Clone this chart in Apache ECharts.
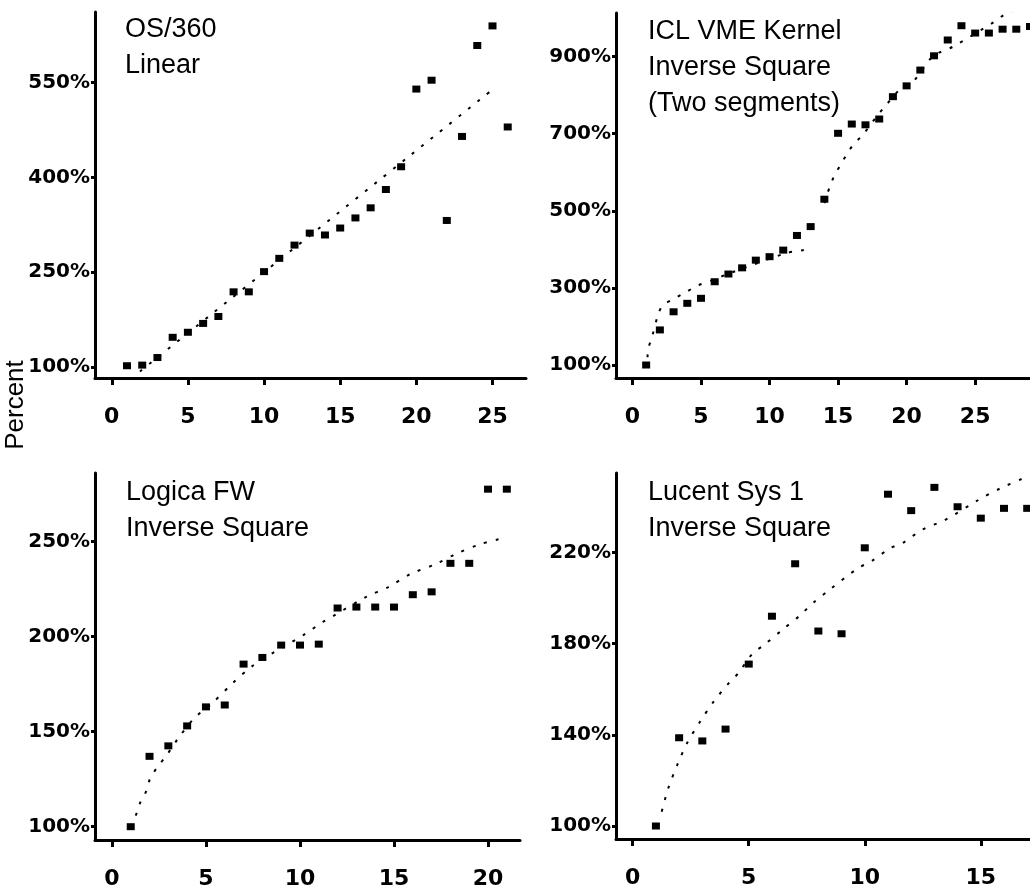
<!DOCTYPE html>
<html><head><meta charset="utf-8">
<script src="https://cdn.jsdelivr.net/npm/echarts@6/dist/echarts.min.js"></script>
<style>html,body{margin:0;padding:0;background:#fff}#c{width:1030px;height:890px}</style>
</head><body><div id="c"></div>
<script>
// ---- Panel 1: OS/360 (Linear)
const os360X = [1,2,3,4,5,6,7,8,9,10,11,12,13,14,15,16,17,18,19,20,21,22,23,24,25,26];
const os360V = [102,103,115,147,155,169,180,219,219,251,272,293,312,309,320,336,352,381,417,540,554,332,465,609,640,480];
const os360FitX = [1.85, 25.2];
const os360FitV = [93, 543];
// ---- Panel 2: ICL VME Kernel (Inverse Square, two segments)
const iclX = [1,2,3,4,5,6,7,8,9,10,11,12,13,14,15,16,17,18,19,20,21,22,23,24,25,26,27,28,29];
const iclV = [100,191,238,260,273,316,336,352,372,381,398,436,459,530,701,725,723,738,796,824,865,902,943,980,961,961,971,971,978];
const iclFitAX = [1.1,1.15,1.4,1.9,2.25,3.1,3.9,4.7,5.8,7.1,11.2,12.5];
const iclFitAV = [120,143,169,234,256,273,289,305,320,338,390,398];
const iclFitBX = [14.0,14.4,14.8,15.2,15.6,16.1,16.8,17.8,18.4,19.6,20.6,21.9,23.4,26.3,27.1,27.9];
const iclFitBV = [520,563,597,619,645,671,697,744,770,818,840,900,926,988,1008,1021];
// ---- Panel 3: Logica FW (Inverse Square)
const logicaX = [1,2,3,4,5,6,7,8,9,10,11,12,13,14,15,16,17,18,19,20,21];
const logicaV = [100,137,142.5,153,163,164,185.5,189,195.5,195.5,196,215,215.5,215.5,215.5,222,223.5,238.5,238.5,277.5,277.5];
const logicaFitX = [1.0,1.31,1.52,1.84,2.02,2.46,2.87,3.53,4.38,5.39,6.45,7.43,8.5,10.2,11.2,11.8,13.55,14.7,15.9,17.2,18.3,19.6,20.7];
const logicaFitV = [100,107,113,119,125,132,137,146.6,157,165.5,175.8,184.2,191,200.9,207.6,211,221,226,233,238,243.5,248.6,251.5];
// ---- Panel 4: Lucent Sys 1 (Inverse Square)
const lucentX = [1,2,3,4,5,6,7,8,9,10,11,12,13,14,15,16,17];
const lucentV = [100,138.7,137.3,142.5,171,192,215,185.5,184.3,222,245.5,238.3,248.5,240,235,239.3,239.3];
const lucentFitX = [1.25,1.53,1.92,2.35,2.9,3.47,4.16,4.55,5.17,5.66,6.49,7.18,7.78,8.47,9.7,10.3,11.09,11.66,12.5,13.46,14.9,15.83,16.84];
const lucentFitV = [106.3,116.5,126.8,136.5,145.7,154.3,162.9,167,175.7,179.4,186.4,192.1,197.9,203.5,213,216.2,221.8,224.3,230.1,234.2,243,248,252.5];
// ---- Tick values and titles
const xTicks1 = [0,5,10,15,20,25];
const xTicks2 = [0,5,10,15,20,25];
const xTicks3 = [0,5,10,15,20];
const xTicks4 = [0,5,10,15];
const yTicks1 = [100,250,400,550];
const yTicks2 = [100,300,500,700,900];
const yTicks3 = [100,150,200,250];
const yTicks4 = [100,140,180,220];
const titles = ['OS/360\nLinear','ICL VME Kernel\nInverse Square\n(Two segments)','Logica FW\nInverse Square','Lucent Sys 1\nInverse Square'];
const yName = 'Percent';

const zip = (xs, vs) => xs.map((x, i) => [x, vs[i]]);

const grids = [
  {left:95, top:12, width:431, height:366},
  {left:616, top:13, width:414, height:365},
  {left:95, top:473, width:425, height:367},
  {left:616, top:473, width:414, height:366}
];
const xr = [[-1.1,27.2],[-1.2,29],[-0.9,21.7],[-0.72,17.12]];
const yr = [[82.6,662],[66.3,1013],[93,286],[94.3,254.8]];
const xt = [xTicks1,xTicks2,xTicks3,xTicks4];
const yt = [yTicks1,yTicks2,yTicks3,yTicks4];

const xAxis = grids.map((g,i)=>({
  type:'value', gridIndex:i, min:xr[i][0], max:xr[i][1],
  axisLine:{show:true,onZero:false,lineStyle:{color:'#000',width:3}},
  axisTick:{show:true,customValues:xt[i],length:7,lineStyle:{color:'#000',width:3}},
  axisLabel:{customValues:xt[i],margin:28,color:'#000',fontFamily:'DejaVu Sans',fontWeight:'bold',fontSize:22},
  splitLine:{show:false}
}));
const yAxis = grids.map((g,i)=>({
  type:'value', gridIndex:i, min:yr[i][0], max:yr[i][1],
  axisLine:{show:true,onZero:false,lineStyle:{color:'#000',width:3}},
  axisTick:{show:true,customValues:yt[i],length:4,lineStyle:{color:'#000',width:3}},
  axisLabel:{customValues:yt[i],margin:5,color:'#000',fontFamily:'DejaVu Sans',fontWeight:'bold',fontSize:20,formatter:'{value}%'},
  splitLine:{show:false}
}));

const sc = (i, data) => ({type:'scatter', xAxisIndex:i, yAxisIndex:i, data, symbol:'rect', symbolSize:[8,7], itemStyle:{color:'#000',opacity:1}, silent:true});
const fl = (i, data) => ({type:'line', xAxisIndex:i, yAxisIndex:i, data, symbol:'none', smooth:0.3, lineStyle:{color:'#000',width:2,type:[3,9],opacity:1}, silent:true});

const titlePos = [[125,12],[648,14],[126,475],[648,475]];

const option = {
  animation:false,
  backgroundColor:'#fff',
  grid: grids,
  xAxis, yAxis,
  title: titles.map((t,i)=>({text:t,left:titlePos[i][0],top:titlePos[i][1],padding:0,
    textStyle:{fontFamily:'Liberation Sans',fontWeight:'normal',fontSize:27,lineHeight:36,color:'#000'}})),
  graphic:[{type:'text',x:16,y:405,rotation:Math.PI/2,
    style:{text:yName,font:'26px "Liberation Sans"',fill:'#000',align:'center',verticalAlign:'middle'}}],
  series:[
    fl(0, zip(os360FitX, os360FitV)), sc(0, zip(os360X, os360V)),
    fl(1, zip(iclFitAX, iclFitAV)), fl(1, zip(iclFitBX, iclFitBV)), sc(1, zip(iclX, iclV)),
    fl(2, zip(logicaFitX, logicaFitV)), sc(2, zip(logicaX, logicaV)),
    fl(3, zip(lucentFitX, lucentFitV)), sc(3, zip(lucentX, lucentV))
  ]
};
const chart = echarts.init(document.getElementById('c'), null, {renderer:'canvas'});
chart.setOption(option);
</script></body></html>
